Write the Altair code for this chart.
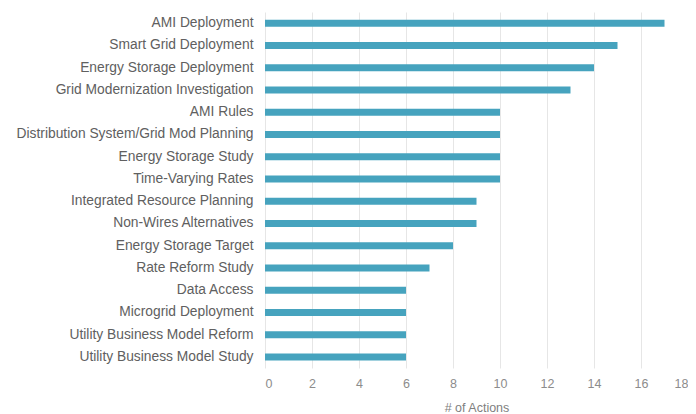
import altair as alt
import pandas as pd

categories = [
    "AMI Deployment",
    "Smart Grid Deployment",
    "Energy Storage Deployment",
    "Grid Modernization Investigation",
    "AMI Rules",
    "Distribution System/Grid Mod Planning",
    "Energy Storage Study",
    "Time-Varying Rates",
    "Integrated Resource Planning",
    "Non-Wires Alternatives",
    "Energy Storage Target",
    "Rate Reform Study",
    "Data Access",
    "Microgrid Deployment",
    "Utility Business Model Reform",
    "Utility Business Model Study",
]
values = [17, 15, 14, 13, 10, 10, 10, 10, 9, 9, 8, 7, 6, 6, 6, 6]
x_ticks = [0, 2, 4, 6, 8, 10, 12, 14, 16, 18]

df = pd.DataFrame({"category": categories, "actions": values})

chart = (
    alt.Chart(df)
    .mark_bar(color="#46A3BE", size=7)
    .encode(
        x=alt.X(
            "actions:Q",
            title="# of Actions",
            scale=alt.Scale(domain=[0, 18], nice=False),
            axis=alt.Axis(
                values=x_ticks,
                grid=True,
                gridColor="#e6e6e6",
                domain=False,
                ticks=False,
                labelColor="#8c8c8c",
                labelFontSize=12.5,
                labelPadding=9,
                titleColor="#7f7f7f",
                titleFontSize=12.5,
                titleFontWeight="normal",
                titlePadding=12,
                labelFont="Liberation Sans",
                titleFont="Liberation Sans",
            ),
        ),
        y=alt.Y(
            "category:N",
            sort=categories,
            title=None,
            axis=alt.Axis(
                domain=False,
                ticks=False,
                grid=False,
                labelColor="#606060",
                labelFontSize=13.8,
                labelPadding=12,
                labelFont="Liberation Sans",
                labelLimit=400,
            ),
        ),
    )
    .properties(
        width=423,
        height=356,
        autosize=alt.AutoSizeParams(type="none"),
        padding={"left": 257, "top": 4, "right": 0, "bottom": 46},
    )
    .configure_view(stroke=None)
)

chart.save("out.html", embed_options={"renderer": "svg", "actions": False})
